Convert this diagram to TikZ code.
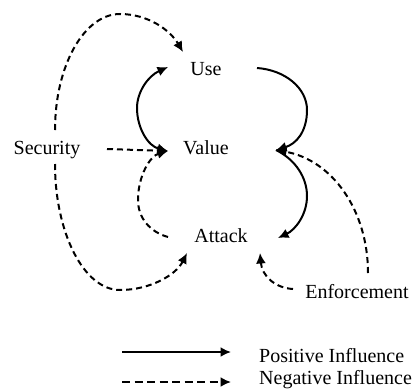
\documentclass[tikz,border=0pt]{standalone}
\usepackage{fontspec}
\setmainfont{Liberation Serif}
\usetikzlibrary{arrows.meta}
\tikzset{
  lbl/.style={inner sep=0pt, anchor=base, font=\fontsize{20}{24}\selectfont},
  tip/.style={-{Latex[length=10.5pt,width=10pt]}},
  posline/.style={line width=2pt, tip},
  negline/.style={line width=2pt, dash pattern=on 6pt off 4pt, tip},
}
\begin{document}
\begin{tikzpicture}[x=1pt,y=-1pt]
\useasboundingbox (0,0) rectangle (417,388);
% labels
\node[lbl] (use) at (206,75) {Use};
\node[lbl] (value) at (206,154) {Value};
\node[lbl] (security) at (47,154) {Security};
\node[lbl] (attack) at (221,242) {Attack};
\node[lbl] (enf) at (357,298) {Enforcement};
\node[lbl, anchor=base west] (posl) at (259,362) {Positive Influence};
\node[lbl, anchor=base west] (negl) at (259,384) {Negative Influence};
% connection points
\coordinate (useTL) at (183,52);
\coordinate (useL) at (168,67);
\coordinate (useR) at (257,68);
\coordinate (valL) at (168,151);
\coordinate (valR) at (276,150);
\coordinate (secT) at (55,130);
\coordinate (secR) at (107,149);
\coordinate (secB) at (55,164);
\coordinate (attL) at (168,237);
\coordinate (attR) at (278,238);
\coordinate (attBL) at (187,253);
\coordinate (attBR) at (260,253);
\coordinate (enfT) at (368,273);
\coordinate (enfL) at (293,289);
\coordinate (legA1) at (122,352);
\coordinate (legA2) at (231,352);
\coordinate (legB1) at (122,382);
\coordinate (legB2) at (231,382);
% connectors
\draw[negline] (secT) .. controls (55,66) and (84,14) .. (120,14)
  .. controls (148,14) and (170,30) .. (useTL);
\draw[posline] (useR) .. controls (285,70) and (307,88) .. (307,110)
  .. controls (307,132) and (296,144) .. (valR);
\draw[posline, {Latex[length=10.5pt,width=10pt]}-{Latex[length=10.5pt,width=10pt]}] (useL) .. controls (148,76) and (137,92) .. (137,108)
  .. controls (137,128) and (148,146) .. (valL);
\draw[negline] (secR) -- (valL);
\draw[negline] (attL) .. controls (150,232) and (138,218) .. (138,200)
  .. controls (138,176) and (150,156) .. (valL);
\draw[posline] (valR) .. controls (296,160) and (307,178) .. (307,196)
  .. controls (307,215) and (295,230) .. (attR);
\draw[negline] (enfT) .. controls (368,210) and (332,160) .. (valR);
\draw[negline] (secB) .. controls (55,233) and (84,290) .. (120,290)
  .. controls (150,290) and (176,275) .. (attBL);
\draw[negline] (enfL) .. controls (275,288) and (262,276) .. (attBR);
% legend
\draw[posline] (legA1) -- (legA2);
\draw[negline, dash pattern=on 8pt off 4.5pt] (legB1) -- (legB2);
\end{tikzpicture}
\end{document}
